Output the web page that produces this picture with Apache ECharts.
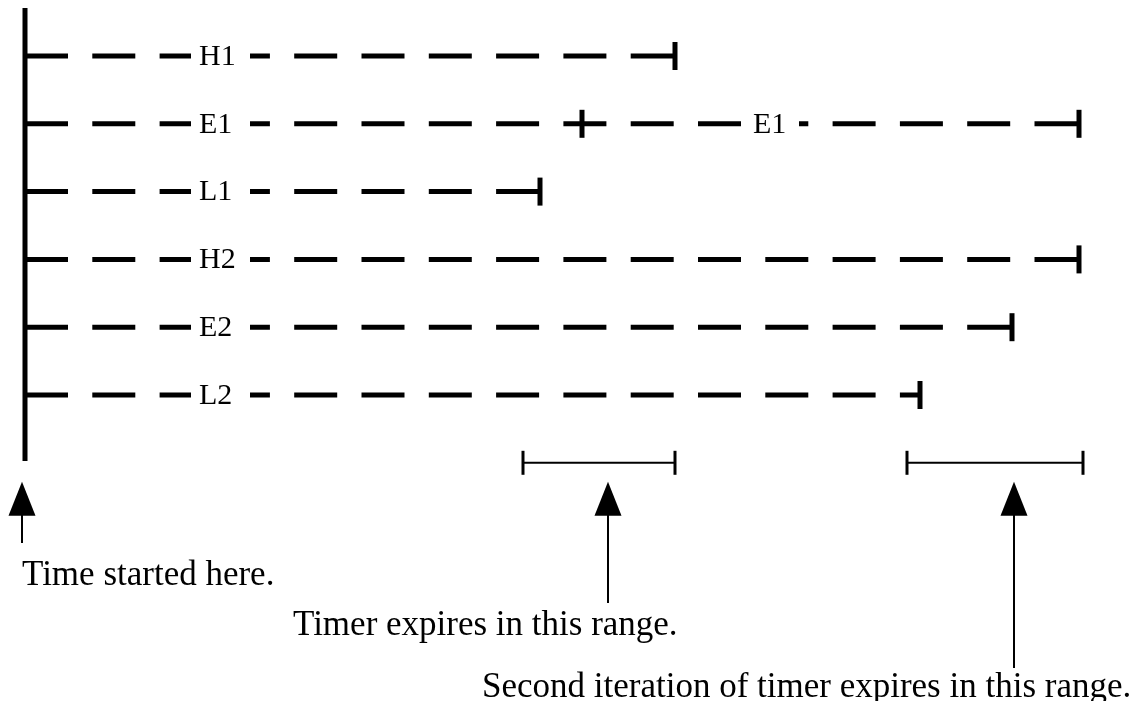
<!DOCTYPE html>
<html>
<head>
<meta charset="utf-8">
<script src="https://cdn.jsdelivr.net/npm/echarts@6/dist/echarts.min.js"></script>
<style>
html,body{margin:0;padding:0;background:#fff;}
#chart{width:1136px;height:701px;}
</style>
</head>
<body>
<div id="chart"></div>
<script>
// ---- data ----
const rows = ['H1', 'E1', 'L1', 'H2', 'E2', 'L2'];
const rowEnd = [650, 1054, 515, 1054, 987, 895];     // time at which each timer line ends
const labelAt = [174, 174, 174, 174, 174, 174];     // time where the row name is written
const extraLabels = [['E1', 728]];                    // repeated name on second iteration
const midMarks = [['E1', 557]];                       // intermediate expiry mark
const expiryRanges = [[498, 650], [882, 1058]];       // ranges in which timer expires
const arrowAt = [-3, 583, 989];                       // arrow times
const captions = ['Time started here.', 'Timer expires in this range.', 'Second iteration of timer expires in this range.'];

// ---- layout ----
const FONT = '"Liberation Serif", "Times New Roman", serif';
const ROW_H = 67.8, ROW0 = 56, X0 = 25, W = 1136, H = 701;
const yMin = -ROW0 / ROW_H, yMax = yMin + H / ROW_H;
const shaftEnd = [543, 603, 668];
const captionPos = [[22, 578], [293, 628], [482, 690]];

const chart = echarts.init(document.getElementById('chart'), null, {renderer: 'canvas'});

function rowRender(params, api) {
  const i = params.dataIndex;
  const name = rows[i];
  const p0 = api.coord([0, i]);
  const p1 = api.coord([rowEnd[i], i]);
  const y = p0[1];
  const ch = [
    {type: 'line', shape: {x1: p0[0], y1: y, x2: p1[0], y2: y},
      style: {stroke: '#000', lineWidth: 5, lineDash: [43, 24.3], lineCap: 'butt'}},
    {type: 'line', shape: {x1: p1[0], y1: y - 14, x2: p1[0], y2: y + 14},
      style: {stroke: '#000', lineWidth: 5}}
  ];
  midMarks.filter(m => m[0] === name).forEach(m => {
    const pm = api.coord([m[1], i]);
    ch.push({type: 'line', shape: {x1: pm[0], y1: y - 14, x2: pm[0], y2: y + 14},
      style: {stroke: '#000', lineWidth: 5}});
  });
  const labs = [[labelAt[i], 59]].concat(extraLabels.filter(l => l[0] === name).map(l => [l[1], 54]));
  labs.forEach(l => {
    const pl = api.coord([l[0], i]);
    ch.push({type: 'rect', shape: {x: pl[0] - 8, y: y - 20, width: l[1], height: 40},
      style: {fill: '#fff'}});
    ch.push({type: 'text', x: pl[0], y: y + 1,
      style: {text: name, font: '30px ' + FONT, fill: '#000', align: 'left', verticalAlign: 'middle'}});
  });
  if (i === 0) {
    const top = api.coord([0, yMin + 8 / ROW_H]);
    const bot = api.coord([0, yMin + 461 / ROW_H]);
    ch.push({type: 'line', shape: {x1: top[0], y1: top[1], x2: bot[0], y2: bot[1]},
      style: {stroke: '#000', lineWidth: 5}});
  }
  return {type: 'group', children: ch};
}

function rangeRender(params, api) {
  const a = api.coord([api.value(0), rows.length]);
  const b = api.coord([api.value(1), rows.length]);
  const y = a[1];
  return {type: 'group', children: [
    {type: 'line', shape: {x1: a[0], y1: y, x2: b[0], y2: y}, style: {stroke: '#000', lineWidth: 2}},
    {type: 'line', shape: {x1: a[0], y1: y - 12, x2: a[0], y2: y + 12}, style: {stroke: '#000', lineWidth: 3}},
    {type: 'line', shape: {x1: b[0], y1: y - 12, x2: b[0], y2: y + 12}, style: {stroke: '#000', lineWidth: 3}}
  ]};
}

function arrowRender(params, api) {
  const i = params.dataIndex;
  const p = api.coord([api.value(0), rows.length]);
  const x = p[0];
  const tip = p[1] + 19;
  const base = tip + 34;
  return {type: 'group', children: [
    {type: 'polygon', shape: {points: [[x, tip], [x - 13.5, base], [x + 13.5, base]]}, style: {fill: '#000'}},
    {type: 'line', shape: {x1: x, y1: base - 1, x2: x, y2: shaftEnd[i]}, style: {stroke: '#000', lineWidth: 2}}
  ]};
}

const option = {
  backgroundColor: '#fff',
  animation: false,
  grid: {left: 0, right: 0, top: 0, bottom: 0},
  xAxis: {type: 'value', min: -X0, max: W - X0, show: false},
  yAxis: {type: 'value', inverse: true, min: yMin, max: yMax, show: false},
  graphic: captions.map((c, k) => ({
    type: 'text', left: captionPos[k][0], top: captionPos[k][1] - 20,
    style: {text: c, font: '35px ' + FONT, fill: '#000'}
  })),
  series: [
    {type: 'custom', clip: false, renderItem: rowRender, data: rows.map((r, i) => [rowEnd[i], i])},
    {type: 'custom', clip: false, renderItem: rangeRender, data: expiryRanges},
    {type: 'custom', clip: false, renderItem: arrowRender, data: arrowAt.map(t => [t])}
  ]
};
chart.setOption(option);
</script>
</body>
</html>
